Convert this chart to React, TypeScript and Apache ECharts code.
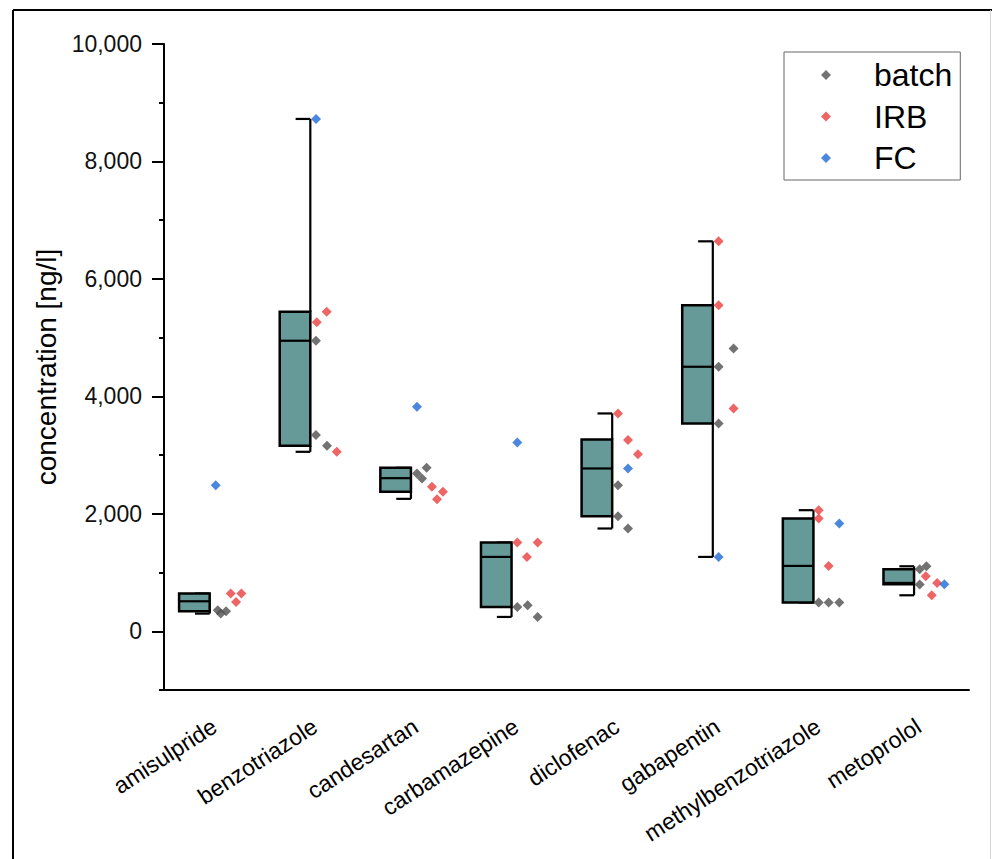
import React, { useEffect, useRef } from "react";
import * as echarts from "echarts";

const categories = [
  "amisulpride",
  "benzotriazole",
  "candesartan",
  "carbamazepine",
  "diclofenac",
  "gabapentin",
  "methylbenzotriazole",
  "metoprolol",
];

// box statistics: [low, q1, median, q3, high]
const boxLow = [301, 3056, 2255, 244, 1750, 1266, 489, 613];
const boxQ1 = [341, 3158, 2374, 414, 1960, 3539, 489, 800];
const boxMedian = [511, 4947, 2607, 1266, 2772, 4504, 1113, 823];
const boxQ3 = [642, 5441, 2783, 1511, 3266, 5550, 1920, 1056];
const boxHigh = [642, 8724, 2783, 1511, 3709, 6640, 2062, 1107];

// individual measurements per category
const batchValues = [
  [358, 301, 341],
  [4947, 3340, 3158],
  [2783, 2687, 2602],
  [414, 443, 244],
  [2488, 1960, 1750],
  [4817, 4504, 3539],
  [489, 489, 489],
  [1056, 1107, 795],
];
const batchJitter = [
  [0.034, 0.064, 0.117],
  [0.01, 0.01, 0.12],
  [0.11, 0.014, 0.064],
  [0.011, 0.114, 0.213],
  [0.012, 0.012, 0.111],
  [0.16, 0.012, 0.012],
  [0.006, 0.105, 0.211],
  [0.01, 0.077, 0.01],
];
const irbValues = [
  [642, 642, 500],
  [5260, 5441, 3056],
  [2459, 2374, 2249],
  [1511, 1511, 1266],
  [3709, 3255, 3016],
  [6640, 5550, 3795],
  [2062, 1920, 1113],
  [937, 823, 613],
];
const irbJitter = [
  [0.163, 0.269, 0.216],
  [0.018, 0.117, 0.217],
  [0.163, 0.272, 0.213],
  [0.011, 0.213, 0.107],
  [0.012, 0.111, 0.21],
  [0.012, 0.012, 0.16],
  [0.006, 0.006, 0.105],
  [0.07, 0.183, 0.13],
];
const fcValues = [2488, 8724, 3822, 3215, 2772, 1266, 1835, 801];
const fcJitter = [0.014, 0.011, 0.014, 0.011, 0.111, 0.012, 0.211, 0.255];

const yMajorTicks = [0, 2000, 4000, 6000, 8000, 10000];
const yMinorTicks = [-1000, 1000, 3000, 5000, 7000, 9000];

const COLORS = {
  batch: "#4f4f4f",
  irb: "#e8403e",
  fc: "#1e6ad4",
  box: "#669a98",
};

const FONT = "Liberation Sans, Arial, sans-serif";

function pointsFor(values: number[][], jitter: number[][]) {
  const out: number[][] = [];
  values.forEach((row, i) => {
    row.forEach((v, k) => out.push([i + jitter[i][k], v]));
  });
  return out;
}

export default function App() {
  const ref = useRef<HTMLDivElement>(null);

  useEffect(() => {
    if (!ref.current) return;
    const chart = echarts.init(ref.current, null, { renderer: "svg" });

    const boxData = categories.map((_, i) => [
      i,
      boxLow[i],
      boxQ1[i],
      boxMedian[i],
      boxQ3[i],
      boxHigh[i],
    ]);

    const scatterCommon = {
      type: "scatter",
      xAxisIndex: 1,
      yAxisIndex: 0,
      symbol: "diamond",
      symbolSize: 10,
      z: 5,
    };

    const option: any = {
      animation: false,
      backgroundColor: "#ffffff",
      textStyle: { fontFamily: FONT },
      grid: { left: 164, top: 44, width: 805, height: 646, containLabel: false },
      graphic: [
        {
          type: "line",
          shape: { x1: 13, y1: 10, x2: 13, y2: 859 },
          style: { stroke: "#000", lineWidth: 2 },
        },
        {
          type: "line",
          shape: { x1: 13, y1: 10, x2: 992, y2: 10 },
          style: { stroke: "#000", lineWidth: 2 },
        },
        {
          type: "line",
          shape: { x1: 990.5, y1: 10, x2: 990.5, y2: 859 },
          style: { stroke: "#d6d6d6", lineWidth: 1 },
        },
      ],
      legend: {
        left: 784,
        top: 52,
        orient: "vertical",
        icon: "diamond",
        itemWidth: 10,
        itemHeight: 10,
        itemGap: 9.5,
        padding: [7, 8, 6, 37],
        borderColor: "#666",
        borderWidth: 1,
        backgroundColor: "#fff",
        textStyle: {
          fontSize: 32,
          color: "#000",
          fontFamily: FONT,
          padding: [0, 0, 0, 38],
        },
        data: ["batch", "IRB", "FC"],
      },
      xAxis: [
        {
          type: "category",
          data: categories,
          boundaryGap: true,
          axisLine: { onZero: false, lineStyle: { color: "#000", width: 2 } },
          axisTick: { alignWithLabel: true, length: 10, lineStyle: { color: "#000", width: 2 } },
          axisLabel: {
            rotate: 33,
            fontSize: 23,
            color: "#000",
            margin: 34,
            fontFamily: FONT,
            interval: 0,
          },
          splitLine: { show: false },
        },
        {
          type: "value",
          min: -0.5,
          max: 7.5,
          show: false,
        },
      ],
      yAxis: [
        {
          type: "value",
          min: -1000,
          max: 10000,
          interval: 1000,
          name: "concentration [ng/l]",
          nameLocation: "middle",
          nameGap: 103,
          nameTextStyle: { fontSize: 28, color: "#000", fontFamily: FONT },
          axisLine: { show: true, onZero: false, lineStyle: { color: "#000", width: 2 } },
          axisTick: {
            show: true,
            length: 12,
            customValues: yMajorTicks,
            lineStyle: { color: "#000", width: 2 },
          },
          axisLabel: {
            customValues: yMajorTicks,
            fontSize: 23,
            color: "#111",
            margin: 22,
            fontFamily: FONT,
            formatter: (v: number) => v.toLocaleString("en-US"),
          },
          splitLine: { show: false },
        },
        {
          type: "value",
          min: -1000,
          max: 10000,
          interval: 1000,
          position: "left",
          axisLine: { show: false, onZero: false },
          axisTick: {
            show: true,
            length: 5,
            customValues: yMinorTicks,
            lineStyle: { color: "#000", width: 2 },
          },
          axisLabel: { show: false },
          splitLine: { show: false },
        },
      ],
      series: [
        {
          type: "custom",
          name: "box",
          xAxisIndex: 0,
          yAxisIndex: 0,
          data: boxData,
          z: 2,
          renderItem: (params: any, api: any) => {
            const i = api.value(0);
            const bw = api.size([1, 0])[0];
            const xc = api.coord([i, 0])[0];
            const yLow = api.coord([i, api.value(1)])[1];
            const yQ1 = api.coord([i, api.value(2)])[1];
            const yMed = api.coord([i, api.value(3)])[1];
            const yQ3 = api.coord([i, api.value(4)])[1];
            const yHigh = api.coord([i, api.value(5)])[1];
            const left = xc - bw * 0.35;
            const right = xc - bw * 0.046;
            const capLeft = xc - bw * 0.192;
            const lineStyle = { stroke: "#000", lineWidth: 2.2 };
            return {
              type: "group",
              children: [
                {
                  type: "line",
                  shape: { x1: right, y1: yQ3, x2: right, y2: yHigh },
                  style: lineStyle,
                },
                {
                  type: "line",
                  shape: { x1: right, y1: yQ1, x2: right, y2: yLow },
                  style: lineStyle,
                },
                {
                  type: "line",
                  shape: { x1: capLeft, y1: yHigh, x2: right, y2: yHigh },
                  style: lineStyle,
                },
                {
                  type: "line",
                  shape: { x1: capLeft, y1: yLow, x2: right, y2: yLow },
                  style: lineStyle,
                },
                {
                  type: "rect",
                  shape: { x: left, y: yQ3, width: right - left, height: yQ1 - yQ3 },
                  style: { fill: COLORS.box, stroke: "#000", lineWidth: 2.5 },
                },
                {
                  type: "line",
                  shape: { x1: left, y1: yMed, x2: right, y2: yMed },
                  style: lineStyle,
                },
              ],
            };
          },
        },
        {
          ...scatterCommon,
          name: "batch",
          itemStyle: { color: COLORS.batch },
          data: pointsFor(batchValues, batchJitter),
        },
        {
          ...scatterCommon,
          name: "IRB",
          itemStyle: { color: COLORS.irb },
          data: pointsFor(irbValues, irbJitter),
        },
        {
          ...scatterCommon,
          name: "FC",
          itemStyle: { color: COLORS.fc },
          data: fcValues.map((v, i) => [i + fcJitter[i], v]),
        },
      ],
    };

    chart.setOption(option);
    return () => chart.dispose();
  }, []);

  return (
    <div
      ref={ref}
      style={{ position: "absolute", left: 0, top: 0, width: 992, height: 859 }}
    />
  );
}
